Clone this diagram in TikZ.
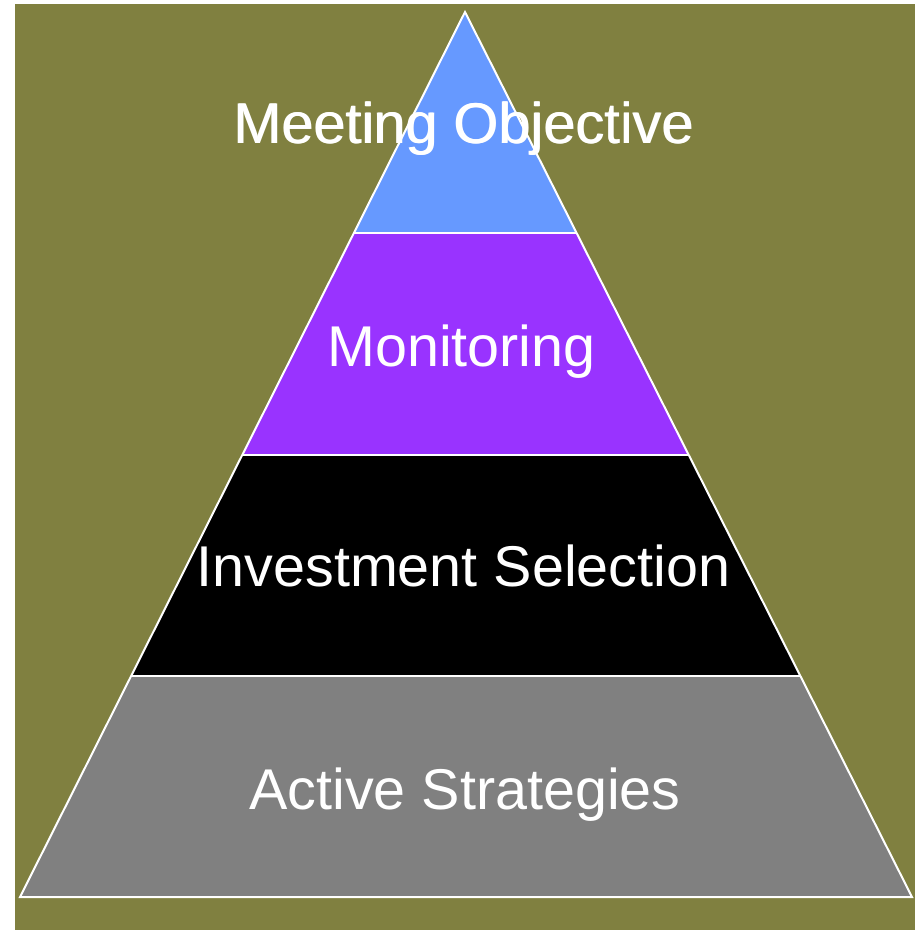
\documentclass[tikz,border=0pt]{standalone}
\usepackage{fontspec}
\setmainfont{Liberation Sans}
\usetikzlibrary{calc}
\definecolor{bgolive}{HTML}{808040}
\definecolor{tierblue}{HTML}{6699FF}
\definecolor{tierpurple}{HTML}{9933FF}
\definecolor{tierblack}{HTML}{000000}
\definecolor{tiergray}{HTML}{808080}
\begin{document}
\begin{tikzpicture}[x=1pt,y=-1pt,
  tierlabel/.style={text=white,font=\fontsize{57.5}{60}\selectfont,inner sep=0pt,anchor=base},
  edge/.style={draw=white,line width=2pt,line join=miter}]
\useasboundingbox (0,0) rectangle (920,930);
% background panel
\fill[bgolive] (15,4) rectangle (915,930);
% pyramid corners
\coordinate (A) at (465,12);
\coordinate (L) at (20,897);
\coordinate (R) at (912,897);
% tier boundaries along the sides
\foreach \t/\n in {0.25/1,0.5/2,0.75/3}{
  \coordinate (L\n) at ($(A)!\t!(L)$);
  \coordinate (R\n) at ($(A)!\t!(R)$);
}
% tiers
\fill[tierblue]   (A) -- (R1) -- (L1) -- cycle;
\fill[tierpurple] (L1) -- (R1) -- (R2) -- (L2) -- cycle;
\fill[tierblack]  (L2) -- (R2) -- (R3) -- (L3) -- cycle;
\fill[tiergray]   (L3) -- (R3) -- (R) -- (L) -- cycle;
% white outlines
\draw[edge] (L1) -- (R1);
\draw[edge] (L2) -- (R2);
\draw[edge] (L3) -- (R3);
\draw[edge] (A) -- (R) -- (L) -- cycle;
% labels
\node[tierlabel] (obj) at (463.5,143) {Meeting Objective};
\node[tierlabel] (objb) at (464.3,143) {Meeting Objective};
\node[tierlabel] (mon) at (461.5,366) {Monitoring};
\node[tierlabel] (inv) at (463.5,586) {Investment Selection};
\node[tierlabel] (act) at (465,809) {Active Strategies};
\end{tikzpicture}
\end{document}
